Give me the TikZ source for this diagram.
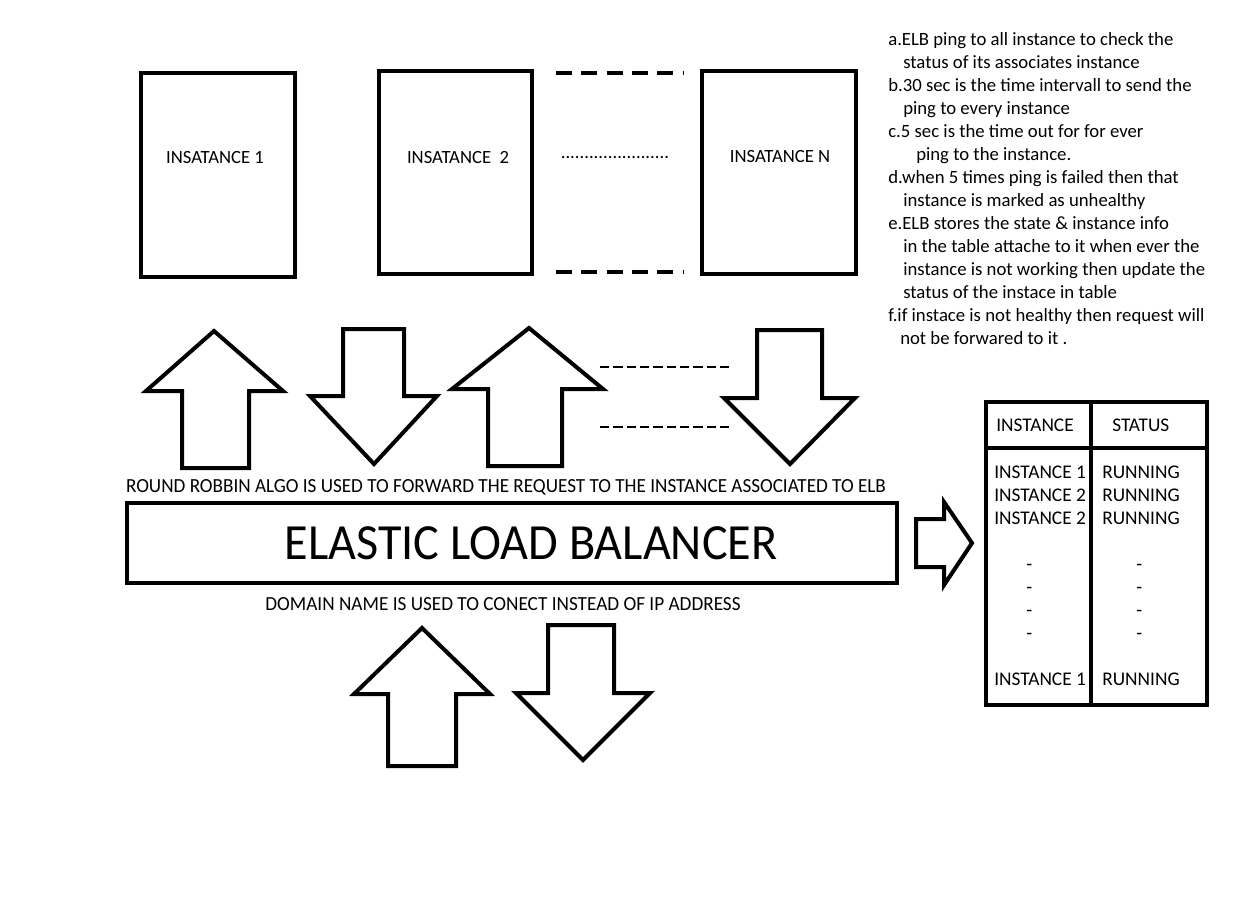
\documentclass[tikz,border=0pt]{standalone}
\usepackage{fontspec}
\setmainfont{Carlito}
\newcommand{\px}{0.75pt}
\begin{document}
\begin{tikzpicture}[x=0.75pt,y=-0.75pt,line join=miter]
\useasboundingbox[fill=white] (0,0) rectangle (1256,910);
\tikzset{
  instbox/.style={draw,line width=3pt,inner sep=0pt},
  blockarrow/.style={draw,line width=3pt,fill=white,line join=miter},
  lbl/.style={inner sep=0pt,font=\fontsize{14pt}{17pt}\selectfont},
  note/.style={inner sep=0pt,anchor=base west,font=\fontsize{14.05pt}{17pt}\selectfont},
  cell/.style={inner sep=0pt,anchor=base west,font=\fontsize{14.5pt}{17pt}\selectfont},
  thickdash/.style={line width=3pt,dash pattern=on 12pt off 7pt},
  thindash/.style={line width=2.2pt,dash pattern=on 7pt off 3pt},
}
% instance boxes
\node[instbox,minimum width={154*\px},minimum height={204*\px}] (i1) at (218,175) {};
\node[instbox,minimum width={153*\px},minimum height={203*\px}] (i2) at (455.5,172.5) {};
\node[instbox,minimum width={154*\px},minimum height={203*\px}] (iN) at (779,172.5) {};
\node[lbl] (t1) at (215,158) {INSATANCE 1};
\node[lbl] (t2) at (458,158) {INSATANCE\ \ 2};
\node[lbl] (tdots) at (615,158) {.......................};
\node[lbl] (tN) at (780,157) {INSATANCE N};
\coordinate (dt1) at (556,73); \coordinate (dt2) at (683,73);
\coordinate (db1) at (556,272); \coordinate (db2) at (683,272);
\draw[thickdash] (dt1) -- (dt2);
\draw[thickdash] (db1) -- (db2);

% arrows row
\draw[blockarrow] (214,331) -- (283,391) -- (249,391) -- (249,468) -- (182,468) -- (182,391) -- (146,391) -- cycle;
\draw[blockarrow] (343,329) -- (404,329) -- (404,396) -- (437,396) -- (374,464) -- (310,396) -- (343,396) -- cycle;
\draw[blockarrow] (529,328) -- (603,389) -- (562,389) -- (562,466) -- (488,466) -- (488,389) -- (452,389) -- cycle;
\draw[blockarrow] (757,330) -- (822,330) -- (822,398) -- (855,398) -- (790,464) -- (724,398) -- (757,398) -- cycle;
\coordinate (da1) at (600,367); \coordinate (da2) at (731,367);
\coordinate (dc1) at (600,427); \coordinate (dc2) at (731,427);
\draw[thindash] (da1) -- (da2);
\draw[thindash] (dc1) -- (dc2);

% ELB
\node[inner sep=0pt,font=\fontsize{15pt}{18pt}\selectfont,xscale=0.958] (rr) at (506,487) {ROUND ROBBIN ALGO IS USED TO FORWARD THE REQUEST TO THE INSTANCE ASSOCIATED TO ELB};
\node[instbox,minimum width={770*\px},minimum height={80*\px}] (elb) at (512,543) {};
\node[inner sep=0pt,font=\fontsize{38pt}{44pt}\selectfont,xscale=0.951] (elbt) at (531,543) {ELASTIC LOAD BALANCER};
\node[inner sep=0pt,font=\fontsize{15pt}{18pt}\selectfont,xscale=0.961] (dn) at (503,604) {DOMAIN NAME IS USED TO CONECT INSTEAD OF IP ADDRESS};

% bottom arrows
\draw[blockarrow] (422,628) -- (490,694) -- (456,694) -- (456,766) -- (388,766) -- (388,694) -- (354,694) -- cycle;
\draw[blockarrow] (548,625) -- (614,625) -- (614,693) -- (650,693) -- (583,760) -- (516,693) -- (548,693) -- cycle;

% right arrow
\draw[blockarrow] (916,519) -- (944,519) -- (944,502) -- (972,543) -- (944,585) -- (944,567) -- (916,567) -- cycle;

% table
\node[draw,line width=3.5pt,inner sep=0pt,minimum width={221*\px},minimum height={303*\px}] (tab) at (1096.5,553.5) {};
\coordinate (colT) at (1091,402); \coordinate (colB) at (1091,705);
\coordinate (rowL) at (986,448); \coordinate (rowR) at (1207,448);
\draw[line width=3.5pt] (colT) -- (colB);
\draw[line width=3.5pt] (rowL) -- (rowR);
\node[cell] (h1) at (996,431) {INSTANCE};
\node[cell] (h2) at (1112,431) {STATUS};
\node[cell] (r1a) at (994,478) {INSTANCE 1};
\node[cell] (r1b) at (1102,478) {RUNNING};
\node[cell] (r2a) at (994,501) {INSTANCE 2};
\node[cell] (r2b) at (1102,501) {RUNNING};
\node[cell] (r3a) at (994,524) {INSTANCE 2};
\node[cell] (r3b) at (1102,524) {RUNNING};
\foreach \yy/\nm in {570/a,593/b,616/c,639/d}{
  \node[cell] (dl\nm) at (1026,\yy) {-};
  \node[cell] (dr\nm) at (1136,\yy) {-};
}
\node[cell] (r9a) at (994,685) {INSTANCE 1};
\node[cell] (r9b) at (1102,685) {RUNNING};

% notes
\node[note] (n1) at (888,45) {a.ELB ping to all instance to check the};
\node[note] (n2) at (903,68) {status of its associates instance};
\node[note] (n3) at (888,91) {b.30 sec is the time intervall to send the};
\node[note] (n4) at (903,114) {ping to every instance};
\node[note] (n5) at (888,137) {c.5 sec is the time out for for ever};
\node[note] (n6) at (916,160) {ping to the instance.};
\node[note] (n7) at (888,183) {d.when 5 times ping is failed then that};
\node[note] (n8) at (903,206) {instance is marked as unhealthy};
\node[note] (n9) at (888,229) {e.ELB stores the state \& instance info};
\node[note] (n10) at (903,252) {in the table attache to it when ever the};
\node[note] (n11) at (903,275) {instance is not working then update the};
\node[note] (n12) at (903,298) {status of the instace in table};
\node[note] (n13) at (888,321) {f.if instace is not healthy then request will};
\node[note] (n14) at (900,344) {not be forwared to it .};
\end{tikzpicture}
\end{document}
